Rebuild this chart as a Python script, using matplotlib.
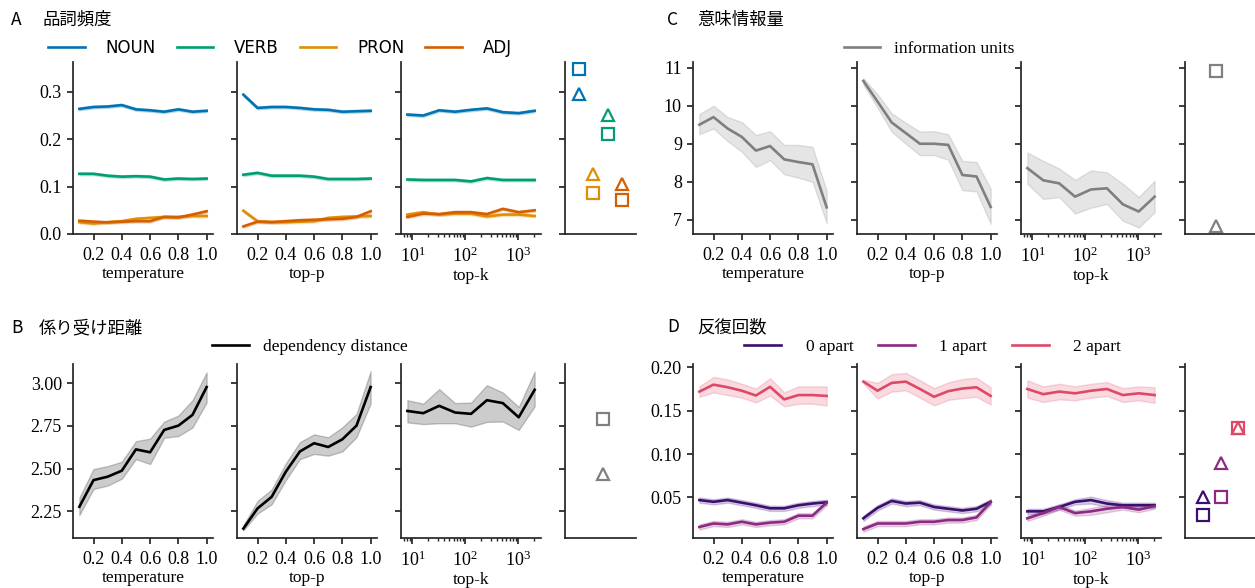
import matplotlib
matplotlib.use("Agg")
import matplotlib.pyplot as plt
import numpy as np

# ---------------- data ----------------
temperature = [0.1, 0.2, 0.3, 0.4, 0.5, 0.6, 0.7, 0.8, 0.9, 1.0]
top_p = [0.1, 0.2, 0.3, 0.4, 0.5, 0.6, 0.7, 0.8, 0.9, 1.0]
top_k = [8, 16, 32, 64, 128, 256, 512, 1024, 2048]
param_labels = ["temperature", "top-p", "top-k"]

# Panel A: part-of-speech frequency
pos_names = ["NOUN", "VERB", "PRON", "ADJ"]
pos_colors = ["#0173b2", "#029e73", "#de8f05", "#d55e00"]
noun_temp = [0.264, 0.268, 0.269, 0.272, 0.263, 0.261, 0.258, 0.263, 0.258, 0.260]
verb_temp = [0.127, 0.127, 0.123, 0.121, 0.122, 0.121, 0.115, 0.117, 0.116, 0.117]
pron_temp = [0.025, 0.022, 0.025, 0.027, 0.032, 0.034, 0.036, 0.036, 0.038, 0.038]
adj_temp = [0.028, 0.026, 0.0245, 0.026, 0.027, 0.027, 0.036, 0.035, 0.041, 0.048]
noun_topp = [0.294, 0.266, 0.268, 0.268, 0.266, 0.263, 0.262, 0.258, 0.259, 0.260]
verb_topp = [0.125, 0.129, 0.123, 0.123, 0.123, 0.121, 0.116, 0.116, 0.116, 0.117]
pron_topp = [0.049, 0.027, 0.025, 0.025, 0.026, 0.027, 0.034, 0.036, 0.037, 0.038]
adj_topp = [0.016, 0.026, 0.025, 0.027, 0.029, 0.030, 0.031, 0.032, 0.036, 0.048]
noun_topk = [0.252, 0.250, 0.261, 0.258, 0.262, 0.265, 0.257, 0.255, 0.260]
verb_topk = [0.115, 0.114, 0.114, 0.114, 0.111, 0.118, 0.114, 0.114, 0.114]
pron_topk = [0.041, 0.046, 0.041, 0.043, 0.043, 0.037, 0.041, 0.041, 0.038]
adj_topk = [0.036, 0.043, 0.042, 0.046, 0.046, 0.042, 0.053, 0.046, 0.050]
pos_ci10 = [0.003, 0.003, 0.003, 0.003, 0.003, 0.003, 0.003, 0.003, 0.003, 0.003]
pos_ci9 = [0.003, 0.003, 0.003, 0.003, 0.003, 0.003, 0.003, 0.003, 0.003]
pos_square = [0.348, 0.210, 0.086, 0.072]     # NOUN, VERB, PRON, ADJ
pos_triangle = [0.295, 0.252, 0.126, 0.105]
pos_marker_x = [0, 2, 1, 3]

# Panel B: dependency distance
dep_temp = [2.276, 2.432, 2.452, 2.487, 2.612, 2.595, 2.726, 2.751, 2.814, 2.977]
dep_temp_lo = [2.227, 2.380, 2.400, 2.440, 2.555, 2.526, 2.680, 2.690, 2.740, 2.886]
dep_temp_hi = [2.330, 2.497, 2.514, 2.540, 2.660, 2.675, 2.775, 2.810, 2.900, 3.063]
dep_topp = [2.148, 2.266, 2.334, 2.481, 2.600, 2.648, 2.626, 2.671, 2.751, 2.977]
dep_topp_lo = [2.138, 2.236, 2.290, 2.432, 2.555, 2.585, 2.575, 2.600, 2.683, 2.880]
dep_topp_hi = [2.168, 2.310, 2.377, 2.530, 2.655, 2.700, 2.683, 2.741, 2.820, 3.070]
dep_topk = [2.837, 2.824, 2.867, 2.828, 2.820, 2.900, 2.883, 2.800, 2.961]
dep_topk_lo = [2.770, 2.760, 2.765, 2.765, 2.745, 2.773, 2.775, 2.726, 2.863]
dep_topk_hi = [2.900, 2.880, 2.965, 2.883, 2.886, 2.988, 2.945, 2.860, 3.067]
dep_square = [2.79]
dep_triangle = [2.47]

# Panel C: information units
info_temp = [9.50, 9.70, 9.40, 9.18, 8.82, 8.94, 8.59, 8.52, 8.46, 7.33]
info_temp_lo = [9.25, 9.40, 9.07, 8.79, 8.39, 8.57, 8.20, 8.11, 8.00, 6.92]
info_temp_hi = [9.78, 10.00, 9.70, 9.57, 9.23, 9.33, 8.97, 8.97, 8.92, 7.76]
info_topp = [10.65, 10.11, 9.56, 9.28, 9.00, 9.00, 8.97, 8.18, 8.14, 7.34]
info_topp_lo = [10.55, 9.95, 9.32, 9.00, 8.70, 8.70, 8.58, 7.78, 7.75, 6.90]
info_topp_hi = [10.72, 10.30, 9.80, 9.55, 9.32, 9.33, 9.25, 8.55, 8.52, 7.82]
info_topk = [8.36, 8.04, 7.96, 7.61, 7.80, 7.83, 7.41, 7.22, 7.61]
info_topk_lo = [7.95, 7.55, 7.60, 7.17, 7.32, 7.42, 6.98, 6.80, 7.20]
info_topk_hi = [8.77, 8.55, 8.35, 8.05, 8.30, 8.25, 7.95, 7.60, 8.03]
info_square = [10.92]
info_triangle = [6.84]

# Panel D: repetition counts
rep_names = ["0 apart", "1 apart", "2 apart"]
rep_colors = ["#3b0f70", "#8c2981", "#de4968"]
rep0_temp = [0.047, 0.045, 0.047, 0.044, 0.041, 0.0375, 0.0375, 0.041, 0.043, 0.0445]
rep1_temp = [0.016, 0.020, 0.019, 0.022, 0.019, 0.021, 0.022, 0.029, 0.029, 0.044]
rep2_temp = [0.172, 0.180, 0.177, 0.173, 0.1675, 0.1775, 0.163, 0.168, 0.168, 0.167]
rep0_topp = [0.026, 0.038, 0.046, 0.043, 0.044, 0.039, 0.037, 0.035, 0.037, 0.045]
rep1_topp = [0.0135, 0.020, 0.020, 0.020, 0.022, 0.022, 0.024, 0.024, 0.027, 0.0445]
rep2_topp = [0.1835, 0.173, 0.182, 0.1835, 0.175, 0.166, 0.1725, 0.1755, 0.177, 0.167]
rep0_topk = [0.034, 0.034, 0.039, 0.045, 0.047, 0.043, 0.041, 0.041, 0.041]
rep1_topk = [0.026, 0.032, 0.039, 0.032, 0.034, 0.037, 0.039, 0.036, 0.040]
rep2_topk = [0.175, 0.169, 0.172, 0.170, 0.173, 0.175, 0.168, 0.170, 0.168]
rep_small_ci10 = [0.003, 0.003, 0.003, 0.003, 0.003, 0.003, 0.003, 0.003, 0.003, 0.003]
rep_small_ci9 = [0.003, 0.003, 0.003, 0.003, 0.004, 0.004, 0.003, 0.003, 0.003]
rep2_temp_ci = [0.006, 0.009, 0.009, 0.008, 0.008, 0.010, 0.008, 0.010, 0.010, 0.011]
rep2_topp_ci = [0.002, 0.009, 0.010, 0.010, 0.010, 0.010, 0.010, 0.011, 0.011, 0.010]
rep2_topk_ci = [0.010, 0.009, 0.009, 0.008, 0.008, 0.008, 0.008, 0.008, 0.009]
rep_square = [0.030, 0.050, 0.130]
rep_triangle = [0.050, 0.090, 0.130]
rep_marker_x = [0, 1, 2]

# ---------------- style ----------------
plt.rcParams["font.family"] = ["Liberation Serif", "DejaVu Serif"]
plt.rcParams["mathtext.fontset"] = "stix"
plt.rcParams["font.size"] = 12
SPINE = "#262626"
plt.rcParams["axes.edgecolor"] = SPINE
plt.rcParams["axes.linewidth"] = 1.25
plt.rcParams["xtick.color"] = SPINE
plt.rcParams["ytick.color"] = SPINE
plt.rcParams["xtick.labelcolor"] = "black"
plt.rcParams["ytick.labelcolor"] = "black"
plt.rcParams["xtick.major.width"] = 1.25
plt.rcParams["ytick.major.width"] = 1.25
plt.rcParams["xtick.major.size"] = 4.5
plt.rcParams["ytick.major.size"] = 4.5
plt.rcParams["xtick.minor.size"] = 2.5
plt.rcParams["xtick.minor.width"] = 1.0
plt.rcParams["xtick.major.pad"] = 4.5

W, H = 1255, 588
fig = plt.figure(figsize=(W / 100, H / 100), dpi=100)

def rect(x0, y_top, w, y_bot):
    return [x0 / W, (H - y_bot) / H, w / W, (y_bot - y_top) / H]

left_cols = [73, 237, 401, 565]
right_cols = [693, 857, 1021, 1185]
widths = [140, 140, 140, 71]
top_row = (61.5, 234)
bot_row = (364, 538)

def make_row(cols, row):
    axes = []
    for x0, w in zip(cols, widths):
        ax = fig.add_axes(rect(x0, row[0], w, row[1]))
        for s in ("top", "right"):
            ax.spines[s].set_visible(False)
        axes.append(ax)
    return axes

def band(ax, x, y, lo, hi, color, lw=1.9, alpha=0.2):
    ax.fill_between(x, lo, hi, color=color, alpha=alpha, lw=1)
    ax.plot(x, y, color=color, lw=lw)

def finish(axes, ylim, yticks, yfmt, xlim_m):
    for i, ax in enumerate(axes[:3]):
        ax.set_ylim(*ylim)
        ax.set_yticks(yticks)
        if i == 0:
            ax.set_yticklabels([yfmt.format(v) for v in yticks])
        else:
            ax.set_yticklabels([])
        if i < 2:
            ax.set_xticks([0.2, 0.4, 0.6, 0.8, 1.0])
            ax.set_xticklabels(["0.2", "0.4", "0.6", "0.8", "1.0"])
        else:
            ax.set_xscale("log")
        ax.set_xlabel(param_labels[i], labelpad=1.5, fontsize=12.5)
        ax.tick_params(axis="both", labelsize=13)
    m = axes[3]
    m.set_ylim(*ylim)
    m.set_yticks(yticks)
    m.set_yticklabels([])
    m.set_xticks([])
    m.set_xlim(*xlim_m)

def sq_tri(ax, xs, sq, tri, colors):
    for x, s, t, c in zip(xs, sq, tri, colors):
        ax.plot([x], [s], marker="s", ms=8, mfc="white", mec=c, mew=1.6, ls="none")
        ax.plot([x], [t], marker="^", ms=8, mfc="none", mec=c, mew=1.6, ls="none")

xs_all = [temperature, top_p, top_k]

# ---------- Panel A ----------
axA = make_row(left_cols, top_row)
A_series = [
    [noun_temp, verb_temp, pron_temp, adj_temp],
    [noun_topp, verb_topp, pron_topp, adj_topp],
    [noun_topk, verb_topk, pron_topk, adj_topk],
]
for i in range(3):
    x = np.array(xs_all[i])
    ci = np.array(pos_ci9 if i == 2 else pos_ci10)
    for ys, c in zip(A_series[i], pos_colors):
        y = np.array(ys)
        band(axA[i], x, y, y - ci, y + ci, c)
sq_tri(axA[3], pos_marker_x, pos_square, pos_triangle, pos_colors)
finish(axA, (0, 0.364), [0.0, 0.1, 0.2, 0.3], "{:.1f}", (-1, 4))
handles = [plt.Line2D([], [], color=c, lw=1.9) for c in pos_colors]
fig.legend(handles, pos_names, loc="center left", bbox_to_anchor=(48 / W, 1 - 48 / H),
           ncol=4, frameon=False, borderpad=0, borderaxespad=0, handlelength=2.2,
           handletextpad=1.25, columnspacing=1.25,
           prop={"family": "DejaVu Sans", "size": 12})

# ---------- Panel B ----------
axB = make_row(left_cols, bot_row)
band(axB[0], temperature, dep_temp, dep_temp_lo, dep_temp_hi, "black", alpha=0.2)
band(axB[1], top_p, dep_topp, dep_topp_lo, dep_topp_hi, "black", alpha=0.2)
band(axB[2], top_k, dep_topk, dep_topk_lo, dep_topk_hi, "black", alpha=0.2)
sq_tri(axB[3], [0], dep_square, dep_triangle, ["#808080"])
finish(axB, (2.093, 3.112), [2.25, 2.50, 2.75, 3.00], "{:.2f}", (-1, 0.87))
fig.legend([plt.Line2D([], [], color="black", lw=1.9)], ["dependency distance"],
           loc="center left", bbox_to_anchor=(212.5 / W, 1 - 346.7 / H),
           frameon=False, borderpad=0, borderaxespad=0, handlelength=2.1,
           handletextpad=0.8, prop={"size": 12.5})

# ---------- Panel C ----------
axC = make_row(right_cols, top_row)
band(axC[0], temperature, info_temp, info_temp_lo, info_temp_hi, "#7f7f7f")
band(axC[1], top_p, info_topp, info_topp_lo, info_topp_hi, "#7f7f7f")
band(axC[2], top_k, info_topk, info_topk_lo, info_topk_hi, "#7f7f7f")
sq_tri(axC[3], [0], info_square, info_triangle, ["#808080"])
finish(axC, (6.63, 11.16), [7, 8, 9, 10, 11], "{:.0f}", (-1, 1.3))
fig.legend([plt.Line2D([], [], color="#7f7f7f", lw=1.9)], ["information units"],
           loc="center left", bbox_to_anchor=(844 / W, 1 - 49.3 / H),
           frameon=False, borderpad=0, borderaxespad=0, handlelength=2.1,
           handletextpad=0.8, prop={"size": 12.5})

# ---------- Panel D ----------
axD = make_row(right_cols, bot_row)
D_series = [
    [rep0_temp, rep1_temp, rep2_temp],
    [rep0_topp, rep1_topp, rep2_topp],
    [rep0_topk, rep1_topk, rep2_topk],
]
D_ci2 = [rep2_temp_ci, rep2_topp_ci, rep2_topk_ci]
for i in range(3):
    x = np.array(xs_all[i])
    small = np.array(rep_small_ci9 if i == 2 else rep_small_ci10)
    for j, (ys, c) in enumerate(zip(D_series[i], rep_colors)):
        y = np.array(ys)
        ci = np.array(D_ci2[i]) if j == 2 else small
        band(axD[i], x, y, y - ci, y + ci, c)
sq_tri(axD[3], rep_marker_x, rep_square, rep_triangle, rep_colors)
finish(axD, (0.0033, 0.2038), [0.05, 0.10, 0.15, 0.20], "{:.2f}", (-1, 3))
handles = [plt.Line2D([], [], color=c, lw=1.9) for c in rep_colors]
fig.legend(handles, rep_names, loc="center left", bbox_to_anchor=(744 / W, 1 - 346.7 / H),
           ncol=3, frameon=False, borderpad=0, borderaxespad=0, handlelength=2.15,
           handletextpad=1.4, columnspacing=1.4, prop={"size": 12.5})

# ---------- Panel titles ----------
cjk = ["Noto Sans CJK JP", "DejaVu Sans"]
for letter, title, xl, xt, yc in [("A", "品詞頻度", 11, 43, 20),
                                   ("B", "係り受け距離", 11, 39, 328),
                                   ("C", "意味情報量", 667, 697, 20),
                                   ("D", "反復回数", 667, 697, 327)]:
    fig.text(xl / W, 1 - yc / H, letter, family=cjk, fontsize=12.5, va="center", ha="left")
    fig.text(xt / W, 1 - yc / H, title, family=cjk, fontsize=12.5, va="center", ha="left")

fig.savefig("out.png", dpi=100)
